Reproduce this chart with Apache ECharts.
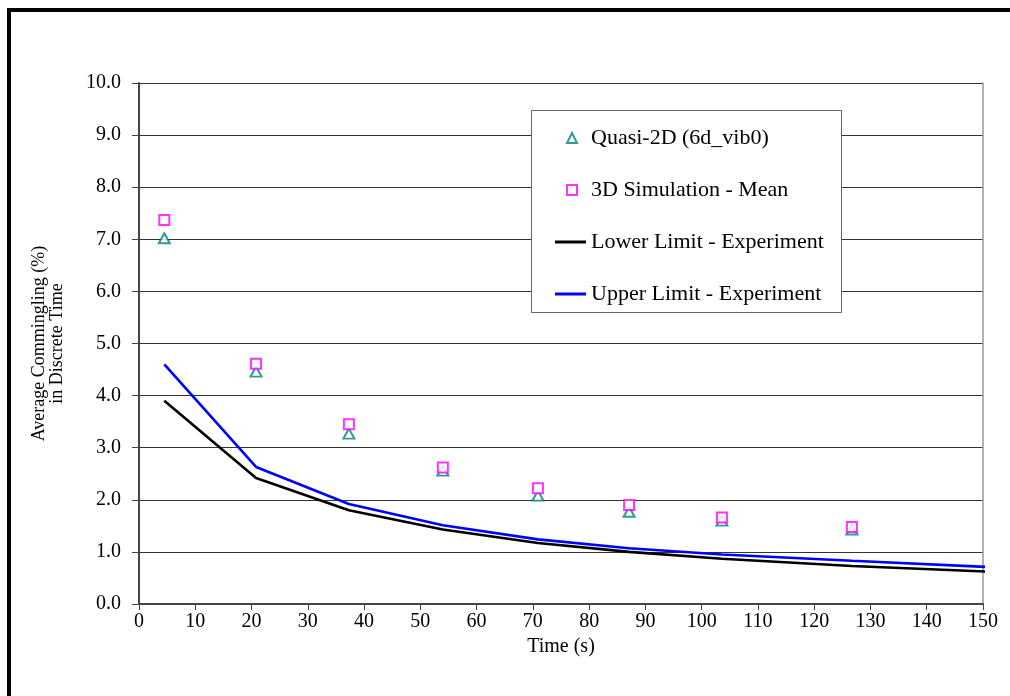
<!DOCTYPE html>
<html>
<head>
<meta charset="utf-8">
<script src="https://cdn.jsdelivr.net/npm/echarts@6/dist/echarts.min.js"></script>
<style>
  html, body { margin: 0; padding: 0; background: #fff; }
  #chart { width: 1010px; height: 696px; }
</style>
</head>
<body>
<div id="chart"></div>
<script>
// Sampling times (s) for the simulated points
const sampleTimes = [4.5, 20.8, 37.3, 54.0, 70.9, 87.1, 103.6, 126.7];
// Average commingling (%) per method
const quasi2d = [7.02, 4.46, 3.27, 2.56, 2.08, 1.77, 1.60, 1.43];
const sim3dMean = [7.37, 4.61, 3.45, 2.62, 2.22, 1.90, 1.66, 1.48];
// Experimental band
const limitTimes = [4.5, 20.8, 37.3, 54.0, 70.9, 87.1, 103.6, 126.7, 151];
const lowerLimit = [3.90, 2.42, 1.80, 1.43, 1.17, 1.00, 0.87, 0.73, 0.62];
const upperLimit = [4.60, 2.63, 1.92, 1.51, 1.24, 1.07, 0.95, 0.83, 0.71];

const seriesNames = ['Quasi-2D (6d_vib0)', '3D Simulation - Mean', 'Lower Limit - Experiment', 'Upper Limit - Experiment'];

const FONT = '"Liberation Serif", "Times New Roman", serif';
const pair = (xs, ys) => xs.map((x, i) => [x, ys[i]]);

const chart = echarts.init(document.getElementById('chart'), null, { renderer: 'canvas' });

chart.setOption({
  animation: false,
  backgroundColor: '#ffffff',
  textStyle: { fontFamily: FONT, color: '#000' },
  grid: { left: 139, right: 27, top: 83, bottom: 92, containLabel: false },
  xAxis: {
    type: 'value', min: 0, max: 150, interval: 10,
    name: 'Time (s)', nameLocation: 'middle', nameGap: 30,
    nameTextStyle: { fontFamily: FONT, fontSize: 20, color: '#000' },
    axisLine: { show: true, onZero: false, lineStyle: { color: '#444', width: 2 } },
    axisTick: { show: true, inside: false, length: 6, lineStyle: { color: '#444', width: 1 } },
    axisLabel: { fontFamily: FONT, fontSize: 20, color: '#000', margin: 8 },
    splitLine: { show: false }
  },
  yAxis: [{
    type: 'value', min: 0, max: 10, interval: 1,
    name: 'Average Commingling (%)\nin Discrete Time', nameLocation: 'middle', nameGap: 73,
    nameRotate: 90,
    nameTextStyle: { fontFamily: FONT, fontSize: 18, lineHeight: 18, color: '#000' },
    axisLine: { show: true, lineStyle: { color: '#444', width: 2 } },
    axisTick: { show: true, inside: false, length: 7, lineStyle: { color: '#444', width: 1 } },
    axisLabel: { fontFamily: FONT, fontSize: 20, color: '#000', margin: 18,
                 formatter: v => v.toFixed(1) },
    splitLine: { show: true, lineStyle: { color: '#333', width: 1 } }
  }, {
    type: 'value', min: 0, max: 10, position: 'right',
    axisLine: { show: true, lineStyle: { color: '#999', width: 1.5 } },
    axisTick: { show: false }, axisLabel: { show: false }, splitLine: { show: false }
  }],
  legend: [{
    data: seriesNames.slice(0, 2),
    orient: 'vertical', left: 561, top: 122,
    itemWidth: 10, itemHeight: 10, itemGap: 30,
    textStyle: { fontFamily: FONT, fontSize: 22, lineHeight: 22, color: '#000', padding: [0, 0, 0, 9] },
    z: 5
  }, {
    data: seriesNames.slice(2).map(n => ({ name: n, icon: 'rect' })),
    orient: 'vertical', left: 550, top: 226,
    itemWidth: 31, itemHeight: 3, itemGap: 30,
    textStyle: { fontFamily: FONT, fontSize: 22, lineHeight: 22, color: '#000' },
    z: 5
  }],
  graphic: [
    // legend frame
    { type: 'rect', z: 4, shape: { x: 531.5, y: 110.5, width: 310, height: 202 },
      style: { fill: '#fff', stroke: '#666', lineWidth: 1 } },
    // page frame
    { type: 'rect', z: 10, silent: true, shape: { x: 9, y: 10, width: 2000, height: 2000 },
      style: { fill: 'none', stroke: '#000', lineWidth: 4 } }
  ],
  series: [{
    name: seriesNames[0], type: 'scatter', z: 3,
    data: pair(sampleTimes, quasi2d),
    symbol: 'emptyTriangle', symbolSize: [11, 10],
    itemStyle: { color: '#008080', borderColor: '#008080', borderWidth: 1.4 }
  }, {
    name: seriesNames[1], type: 'scatter', z: 3,
    data: pair(sampleTimes, sim3dMean),
    symbol: 'emptyRect', symbolSize: 10,
    itemStyle: { color: '#ff00ff', borderColor: '#ff00ff', borderWidth: 1.4 }
  }, {
    name: seriesNames[2], type: 'line', z: 2, clip: false,
    data: pair(limitTimes, lowerLimit),
    symbol: 'none', color: '#000',
    lineStyle: { color: '#000', width: 2.6 }
  }, {
    name: seriesNames[3], type: 'line', z: 2, clip: false,
    data: pair(limitTimes, upperLimit),
    symbol: 'none', color: '#0000ff',
    lineStyle: { color: '#0000ff', width: 2.6 }
  }]
});
</script>
</body>
</html>
